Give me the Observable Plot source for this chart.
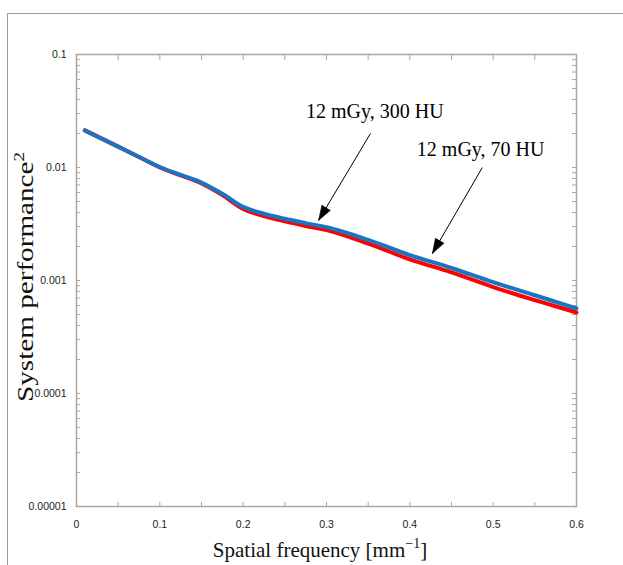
<!DOCTYPE html>
<html><head><meta charset="utf-8">
<script src="https://cdn.jsdelivr.net/npm/d3@7"></script>
<script src="https://cdn.jsdelivr.net/npm/@observablehq/plot@0.6"></script>
<style>
html,body{margin:0;padding:0;background:#fff;}
#wrap{position:relative;width:623px;height:565px;overflow:hidden;}
#wrap svg{position:absolute;left:0;top:0;}
#outer{position:absolute;left:7px;top:13px;right:-4px;bottom:-4px;border-left:1.5px solid #9a9a9a;border-top:1.5px solid #9a9a9a;}
</style></head><body>
<div id="wrap"><div id="outer"></div></div>
<script>
// spatial frequency [mm^-1]
const freq = [0.01,0.05,0.075,0.1,0.125,0.15,0.175,0.2,0.225,0.25,0.275,0.3,0.35,0.4,0.45,0.5,0.55,0.6];
// 12 mGy, 300 HU (blue)
const perf300 = [0.0213,0.0153,0.0124,0.0101,0.0086,0.00735,0.00585,0.00448,0.00390,0.00352,0.00322,0.00296,0.00229,0.00168,0.00129,0.000966,0.00074,0.000565];
// 12 mGy, 70 HU (red)
const perf70 = [0.0213,0.0153,0.0124,0.0100,0.0085,0.00722,0.00570,0.00430,0.00372,0.00334,0.00304,0.00279,0.00212,0.00154,0.00118,0.000875,0.00067,0.000521];

const xTickValues = [0,0.1,0.2,0.3,0.4,0.5,0.6];
const xTickLabels = ["0","0.1","0.2","0.3","0.4","0.5","0.6"];
const xMinorTicks = [0.05,0.1,0.15,0.2,0.25,0.3,0.35,0.4,0.45,0.5,0.55];
const yTickValues = [1e-5,1e-4,1e-3,1e-2,1e-1];
const yTickLabels = ["0.00001","0.0001","0.001","0.01","0.1"];
const yMinorTicks = [1e-5,1e-4,1e-3,1e-2].flatMap(d => [1,2,3,4,5,6,7,8,9].map(k => k*d)).concat([0.1]);

const annoLabels = ["12 mGy, 300 HU","12 mGy, 70 HU"];
const annoX = [0.358,0.485];
const annoY = [0.0272,0.01277];
const arrowX1 = [0.3528,0.487];
const arrowY1 = [0.0200,0.0100];
const arrowX2 = [0.2904,0.427];
const arrowY2 = [0.0034,0.00173];
const arrowAngle = [211,210];

const seriesNames = ["12 mGy, 70 HU","12 mGy, 300 HU"];
const seriesColors = ["#ff0000","#1a74c2"];

const rows = [
  ...freq.map((f,i)=>({f, v: perf70[i], s: seriesNames[0]})),
  ...freq.map((f,i)=>({f, v: perf300[i], s: seriesNames[1]}))
];
const annos = annoLabels.map((t,i)=>({t, x: annoX[i], y: annoY[i]}));
const arrows = arrowX1.map((_,i)=>({x1: arrowX1[i], y1: arrowY1[i], x2: arrowX2[i], y2: arrowY2[i], a: arrowAngle[i]}));

const W = 623, H = 565, mL = 76, mR = 47, mT = 54, mB = 59;
const iw = W - mL - mR, ih = H - mT - mB;
const grey = "#a6a6a6";

const chart = Plot.plot({
  width: W, height: H,
  marginLeft: mL, marginRight: mR, marginTop: mT, marginBottom: mB,
  style: {fontFamily: "'Liberation Sans', Arial, sans-serif", fontSize: "10.5px", background: "transparent"},
  x: {domain: [0,0.6], label: null},
  y: {type: "log", domain: [1e-5,0.1], label: null},
  color: {domain: seriesNames, range: seriesColors},
  marks: [
    Plot.tickX(xMinorTicks, {x: d=>d, insetTop: ih-4, stroke: grey, strokeWidth: 1}),
    Plot.tickX(xMinorTicks, {x: d=>d, insetBottom: ih-6, stroke: grey, strokeWidth: 1}),
    Plot.tickY(yMinorTicks, {y: d=>d, insetRight: iw-4, stroke: grey, strokeWidth: 1}),
    Plot.tickY(yMinorTicks, {y: d=>d, insetLeft: iw-4, stroke: grey, strokeWidth: 1}),
    Plot.frame({stroke: grey, strokeWidth: 1.5}),
    Plot.axisX({ticks: xTickValues, tickSize: 0, tickPadding: 14, tickFormat: d => xTickLabels[xTickValues.indexOf(d)], color: "#222", label: null}),
    Plot.axisY({ticks: yTickValues, tickSize: 0, tickPadding: 10, tickFormat: d => yTickLabels[yTickValues.indexOf(d)], color: "#222", label: null}),
    Plot.line(rows, {x: "f", y: "v", z: "s", stroke: "s", strokeWidth: 4, curve: "monotone-x"}),
    Plot.link(arrows, {x1: "x1", y1: "y1", x2: "x2", y2: "y2", stroke: "black", strokeWidth: 1}),
    Plot.vector(arrows, {x: "x2", y: "y2", rotate: "a", length: 15, r: 5, shape: "spike", anchor: "end", fill: "black", stroke: "black", strokeWidth: 0.5}),
    Plot.text(annos, {x: "x", y: "y", text: "t", fontFamily: "'Liberation Serif', 'Times New Roman', serif", fontSize: 20, lineAnchor: "bottom", fill: "black"})
  ]
});
document.getElementById("wrap").appendChild(chart);

const svg = d3.select(chart);
// y title
const yt = svg.append("text")
  .attr("transform", "translate(33,277) rotate(-90)")
  .attr("text-anchor", "middle")
  .attr("font-family", "'Liberation Serif', 'Times New Roman', serif")
  .attr("font-size", 23)
  .attr("fill", "#111")
  .attr("textLength", 250).attr("lengthAdjust", "spacingAndGlyphs");
yt.append("tspan").text("System performance");
yt.append("tspan").attr("dy", -9).attr("font-size", 15).text("2");
// x title
const xt = svg.append("text")
  .attr("x", 320).attr("y", 557)
  .attr("text-anchor", "middle")
  .attr("font-family", "'Liberation Serif', 'Times New Roman', serif")
  .attr("font-size", 21)
  .attr("fill", "#111");
xt.append("tspan").text("Spatial frequency [mm");
xt.append("tspan").attr("dy", -9).attr("font-size", 14).text("\u22121");
xt.append("tspan").attr("dy", 9).text("]");
</script>
</body></html>
